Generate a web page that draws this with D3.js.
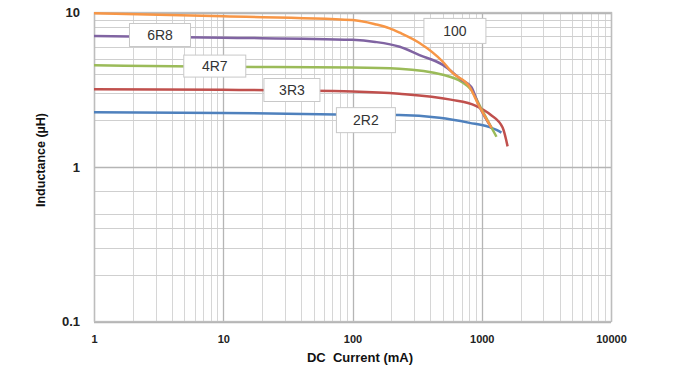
<!DOCTYPE html>
<html><head><meta charset="utf-8">
<script src="https://cdn.jsdelivr.net/npm/d3@7"></script>
<style>body{margin:0;background:#fff}svg{display:block;font-family:"Liberation Sans",Arial,sans-serif}</style>
</head><body><svg id="c" width="676" height="368"></svg>
<script>
// Data (current in mA, inductance in µH)
const seriesNames = ["2R2","3R3","4R7","6R8","100"];
const seriesColors = ["#4F81BD","#C0504D","#9BBB59","#8064A2","#F79646"];
const cur2R2 = [1, 10, 100, 230, 470, 805, 1130, 1300, 1420];
const ind2R2 = [2.26, 2.24, 2.18, 2.17, 2.08, 1.93, 1.82, 1.74, 1.67];
const cur3R3 = [1, 10, 100, 230, 575, 900, 1170, 1450, 1585];
const ind3R3 = [3.19, 3.16, 3.08, 2.98, 2.73, 2.49, 2.18, 1.80, 1.36];
const cur4R7 = [1, 10, 100, 230, 500, 700, 830, 1000, 1300];
const ind4R7 = [4.55, 4.45, 4.4, 4.32, 3.95, 3.55, 3.16, 2.35, 1.57];
const cur6R8 = [1, 10, 100, 150, 232, 330, 500, 700, 830, 950, 1190];
const ind6R8 = [7.05, 6.87, 6.65, 6.45, 6.0, 5.3, 4.58, 3.66, 3.3, 2.5, 1.79];
const cur100 = [1, 10, 100, 150, 194, 232, 330, 500, 595, 805, 950, 1190];
const ind100 = [9.9, 9.45, 8.95, 8.4, 7.9, 7.4, 6.35, 4.8, 4.06, 3.3, 2.5, 1.79];
const seriesCur = [cur2R2, cur3R3, cur4R7, cur6R8, cur100];
const seriesInd = [ind2R2, ind3R3, ind4R7, ind6R8, ind100];
// label box anchors in data space (current, inductance)
const labelCur = [127, 34, 8.6, 3.24, 620];
const labelInd = [2.01, 3.15, 4.5, 7.15, 7.6];
const xTicks = [1, 10, 100, 1000, 10000];
const yTicks = [0.1, 1, 10];
const xMinor = [2,3,4,5,6,7,8,9,20,30,40,50,60,70,80,90,200,300,400,500,600,700,800,900,2000,3000,4000,5000,6000,7000,8000,9000];
const yMinor = [0.2,0.3,0.4,0.5,0.7,2,3,4,5,6,7,8,9];

const svg = d3.select("#c");
const L = 94, R = 611, T = 12.5, B = 321.5;
const x = d3.scaleLog().domain([1,10000]).range([L,R]);
const y = d3.scaleLog().domain([0.1,10]).range([B,T]);

const g = svg.append("g");
g.selectAll(".xm").data(xMinor).join("line")
  .attr("x1",d=>Math.round(x(d))+0.5).attr("x2",d=>Math.round(x(d))+0.5).attr("y1",T).attr("y2",B)
  .attr("stroke","#d6d6d6").attr("stroke-width",1);
g.selectAll(".ym").data(yMinor).join("line")
  .attr("y1",d=>Math.round(y(d))+0.5).attr("y2",d=>Math.round(y(d))+0.5).attr("x1",L).attr("x2",R)
  .attr("stroke","#cfcfcf").attr("stroke-width",1);
g.selectAll(".xM").data(xTicks).join("line")
  .attr("x1",d=>Math.round(x(d))+0.5).attr("x2",d=>Math.round(x(d))+0.5).attr("y1",T).attr("y2",B)
  .attr("stroke","#b5b5b5").attr("stroke-width",1.3);
g.selectAll(".yM").data(yTicks).join("line")
  .attr("y1",d=>Math.round(y(d))+0.5).attr("y2",d=>Math.round(y(d))+0.5).attr("x1",L).attr("x2",R)
  .attr("stroke","#b5b5b5").attr("stroke-width",1.3);
g.append("rect").attr("x",L+0.5).attr("y",T).attr("width",R-L).attr("height",B-T)
  .attr("fill","none").attr("stroke","#bdbdbd").attr("stroke-width",1.3);

// axes tick labels
const xAxis = d3.axisBottom(x).tickValues(xTicks).tickFormat(d3.format("d")).tickSize(0).tickPadding(0);
const xa = svg.append("g").attr("transform",`translate(0,${B+14})`).call(xAxis);
xa.select(".domain").remove();
xa.selectAll("text").attr("font-size",11).attr("font-weight","bold").attr("fill","#222").attr("font-family","Liberation Sans, Arial");
const yAxis = d3.axisLeft(y).tickValues(yTicks).tickFormat(d=>d<1?d.toFixed(1):String(d)).tickSize(0).tickPadding(0);
const ya = svg.append("g").attr("transform",`translate(80,0)`).call(yAxis);
ya.select(".domain").remove();
ya.selectAll("text").attr("font-size",13).attr("font-weight","bold").attr("fill","#222").attr("font-family","Liberation Sans, Arial");

// lines
seriesNames.forEach((n,i)=>{
  const pts = seriesCur[i].map((c,j)=>[c, seriesInd[i][j]]);
  svg.append("path").attr("d", d3.line().x(d=>x(d[0])).y(d=>y(d[1])).curve(d3.curveMonotoneX)(pts))
    .attr("fill","none").attr("stroke",seriesColors[i]).attr("stroke-width",2.5).attr("stroke-linejoin","round");
});

// labels
const bw = [59, 56, 62, 61, 62], bh = [25, 23, 22, 23, 25];
seriesNames.forEach((n,i)=>{
  const cx = x(labelCur[i]), cy = y(labelInd[i]);
  svg.append("rect").attr("x",cx-bw[i]/2).attr("y",cy-bh[i]/2).attr("width",bw[i]).attr("height",bh[i])
    .attr("fill","#fff").attr("stroke","#c8c8c8").attr("stroke-width",1);
  svg.append("text").attr("x",cx).attr("y",cy+5).attr("text-anchor","middle")
    .attr("font-size",14).attr("fill","#333").text(n);
});

// titles
svg.append("text").attr("x",360).attr("y",362).attr("text-anchor","middle")
  .attr("font-size",13).attr("font-weight","bold").attr("fill","#111").style("white-space","pre").text("DC  Current (mA)");
svg.append("text").attr("transform","translate(45,160) rotate(-90)").attr("text-anchor","middle")
  .attr("font-size",12.5).attr("font-weight","bold").attr("fill","#111").text("Inductance (µH)");
</script></body></html>
